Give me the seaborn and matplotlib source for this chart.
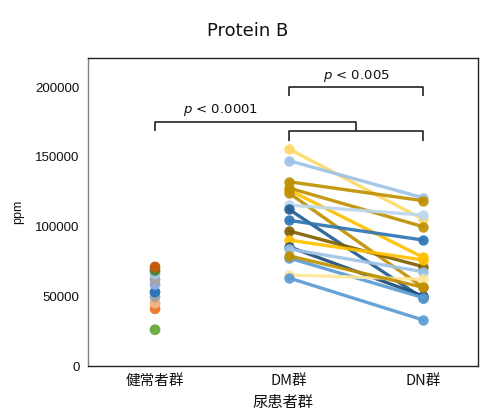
import numpy as np
import pandas as pd
import matplotlib
matplotlib.use("Agg")
import matplotlib.pyplot as plt
import seaborn as sns

# ---- data ----
categories = ["健常者群", "DM群", "DN群"]
healthy_values = [26000, 41000, 45000, 49500, 53000, 58500, 62000, 66000, 68500, 71000]
healthy_colors = ["#70AD47", "#ED7D31", "#F4B183", "#A5A5A5", "#2E75B6",
                  "#8FAADC", "#A5A5A5", "#9DC3E6", "#548235", "#C55A11"]

dm_values = [155600, 147200, 132100, 126200, 127600, 124000, 115400, 112300,
             104400, 96800, 90300, 85500, 83900, 77400, 65200, 63100, 79000]
dn_values = [105200, 120600, 118500, 77900, 99900, 56400, 108200, 48500,
             90300, 71200, 76000, 50200, 67600, 49000, 62200, 33000, 56400]
pair_colors = ["#FFD966", "#9DC3E6", "#BF9000", "#FFC000", "#BF9000", "#BF9000",
               "#BDD7EE", "#255E91", "#2E75B6", "#7F6000", "#FFC000", "#1F4E79",
               "#9DC3E6", "#5B9BD5", "#FFE699", "#5B9BD5", "#BF9000"]

y_ticks = [0, 50000, 100000, 150000, 200000]

sns.set_theme(style="white")
plt.rcParams['font.family'] = ['Liberation Sans', 'Noto Sans CJK JP']
plt.rcParams['mathtext.fontset'] = 'dejavusans'
plt.rcParams['text.color'] = '#111111'
plt.rcParams['axes.labelcolor'] = '#111111'
plt.rcParams['xtick.color'] = '#111111'
plt.rcParams['ytick.color'] = '#111111'

fig = plt.figure(figsize=(4.8, 4.19), dpi=100)
ax = fig.add_axes([88/480, 1-366/419, (478-88)/480, (366-58)/419])

# healthy group points
hdf = pd.DataFrame({"x": [0]*len(healthy_values), "y": healthy_values,
                    "id": [str(i) for i in range(len(healthy_values))]})
sns.scatterplot(data=hdf, x="x", y="y", hue="id", palette=healthy_colors,
                s=60, edgecolor="none", legend=False, ax=ax, zorder=3)

# paired lines DM -> DN
rows = []
for i, (a, b) in enumerate(zip(dm_values, dn_values)):
    rows.append({"pair": str(i), "x": 1, "y": a})
    rows.append({"pair": str(i), "x": 2, "y": b})
pdf = pd.DataFrame(rows)
sns.lineplot(data=pdf, x="x", y="y", hue="pair", palette=pair_colors,
             units="pair", estimator=None, marker="o", markersize=7.5,
             markeredgewidth=0, linewidth=2.4, alpha=0.92, legend=False, ax=ax)

ax.set_xlim(-0.5, 2.41)
ax.set_ylim(0, 220800)
ax.set_xticks([0, 1, 2])
ax.set_xticklabels(categories, fontsize=10.5, family=['Noto Sans CJK JP'])
ax.set_yticks(y_ticks)
ax.set_yticklabels([str(v) for v in y_ticks], fontsize=9.5)
ax.tick_params(axis='both', length=0, pad=6)
ax.set_xlabel("尿患者群", fontsize=11, family=['Noto Sans CJK JP'], labelpad=4)
ax.set_ylabel("ppm", fontsize=9, labelpad=8)
for s in ax.spines.values():
    s.set_color("#222222")
    s.set_linewidth(1.0)
ax.spines['left'].set_color("#808080")

# significance brackets
lc = "#222222"
lw = 1.2
def bracket(x1, x2, y, drop_left, drop_right):
    ax.plot([x1, x1, x2, x2], [y - drop_left, y, y, y - drop_right],
            color=lc, lw=lw, solid_capstyle='butt', zorder=4)

bracket(1, 2, 200000, 6500, 6500)
bracket(1, 2, 168500, 7000, 7000)
bracket(0, 1.5, 175100, 6500, 6600)

ax.text(1.5, 202500, r"$p$ < 0.005", ha='center', va='bottom', fontsize=9.5,
        family=['DejaVu Sans'])
ax.text(0.49, 177500, r"$p$ < 0.0001", ha='center', va='bottom', fontsize=9.5,
        family=['DejaVu Sans'])

fig.text(248/480, 1-31/419, "Protein B", ha='center', va='center',
         fontsize=13, family=['DejaVu Sans'])

fig.savefig("out.png", dpi=100)
